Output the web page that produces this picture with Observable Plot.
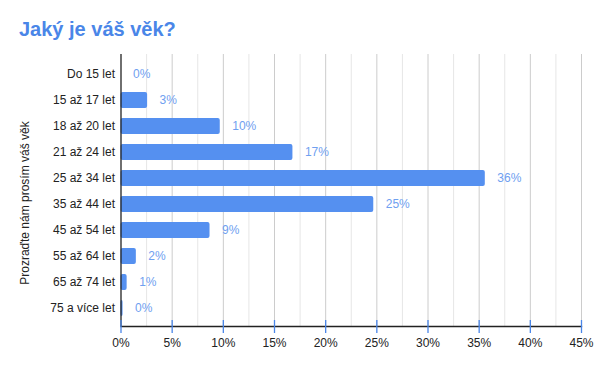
<!DOCTYPE html>
<html><head><meta charset="utf-8">
<script src="https://cdn.jsdelivr.net/npm/d3@7"></script>
<script src="https://cdn.jsdelivr.net/npm/@observablehq/plot@0.6"></script>
<style>
body{margin:0;background:#fff;font-family:"Liberation Sans",Arial,sans-serif;}
#title{height:50px;box-sizing:border-box;padding:18px 0 0 19px;font-size:20px;font-weight:bold;color:#4a86e8;line-height:22px;white-space:nowrap}
#chart svg{display:block}
</style></head><body>
<div id="title">Jaký je váš věk?</div>
<div id="chart"></div>
<script>
const categories = ["Do 15 let","15 až 17 let","18 až 20 let","21 až 24 let","25 až 34 let","35 až 44 let","45 až 54 let","55 až 64 let","65 až 74 let","75 a více let"];
const values = [0, 2.6, 9.7, 16.8, 35.6, 24.7, 8.7, 1.5, 0.6, 0.2];
const valueLabels = ["0%","3%","10%","17%","36%","25%","9%","2%","1%","0%"];
const majorTicks = [0,5,10,15,20,25,30,35,40,45];
const minorTicks = [2.5,7.5,12.5,17.5,22.5,27.5,32.5,37.5,42.5];
const yTitle = "Prozraďte nám prosím váš věk";

const data = categories.map((c,i)=>({cat:c, value:values[i], label:valueLabels[i]}));
const barColor = "#5590f0";
const labelColor = "#6fa0f0";
const font = "Liberation Sans, Arial, sans-serif";

const chart = Plot.plot({
  width: 600, height: 321,
  marginTop: 4, marginBottom: 45, marginLeft: 120.5, marginRight: 19,
  style: {fontFamily: font, fontSize: "12px", color: "#222", background: "#fff"},
  x: {domain: [0,45]},
  y: {domain: categories, paddingInner: 0.37, paddingOuter: 0.35, insetTop: 2},
  marks: [
    Plot.ruleX(minorTicks, {stroke: "#e6e6e6", strokeWidth: 1}),
    Plot.ruleX(majorTicks.filter(d=>d>0), {stroke: "#cccccc", strokeWidth: 1}),
    Plot.barX(data, {x: "value", y: "cat", fill: barColor, rx: 2}),
    Plot.text(data, {x: "value", y: "cat", text: "label", textAnchor: "start", dx: 12, fill: labelColor, fontSize: 12}),
    Plot.ruleX([0], {stroke: "#222", strokeWidth: 1.3}),
    Plot.frame({anchor: "bottom", stroke: "#222", strokeWidth: 1.3}),
    Plot.ruleX(majorTicks, {stroke: "#4a86e8", strokeWidth: 1.3, insetTop: 266, insetBottom: -7}),
    Plot.axisX({ticks: majorTicks, tickFormat: d => d + "%", tickSize: 0, tickPadding: 12, fill: "#222", fontSize: 12, label: null}),
    Plot.axisY({tickSize: 0, tickPadding: 6, fill: "#222", fontSize: 12, label: null}),
    Plot.text([yTitle], {frameAnchor: "left", textAnchor: "middle", rotate: -90, dx: -95.5, dy: 12.5, fill: "#222", fontSize: 12})
  ]
});
document.getElementById("chart").appendChild(chart);
</script>
</body></html>
